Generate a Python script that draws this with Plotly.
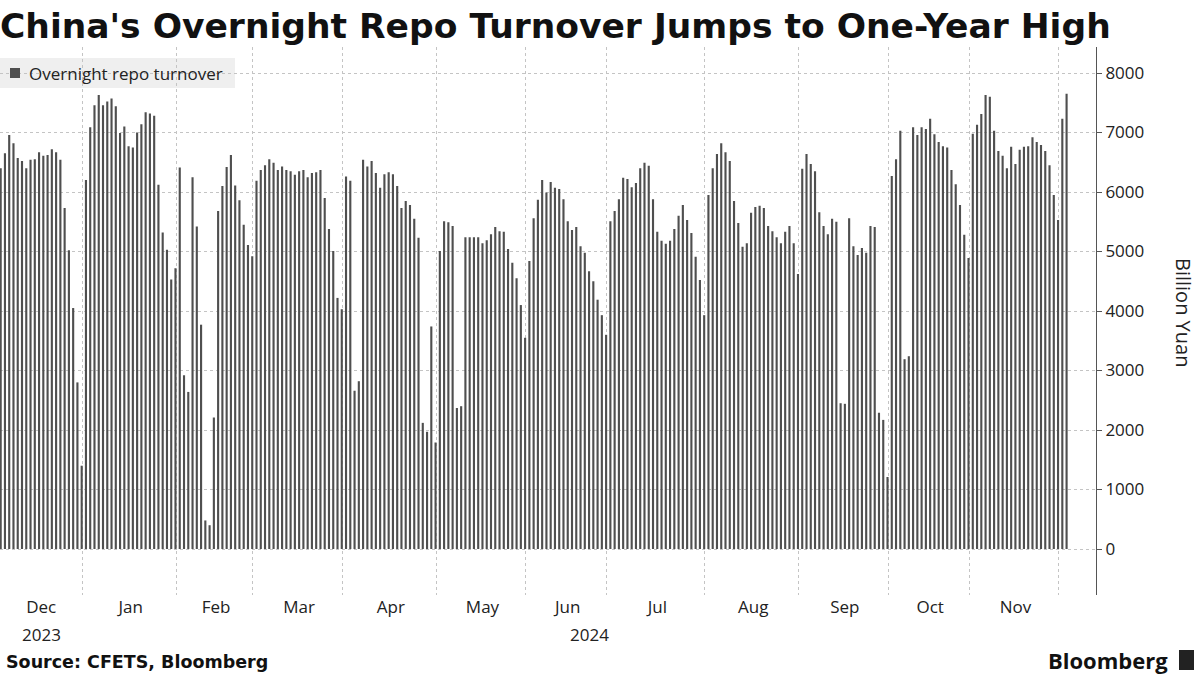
import plotly.graph_objects as go

# ---- data: overnight repo turnover (billion yuan), by month of trading days ----
month_names = ["Dec", "Jan", "Feb", "Mar", "Apr", "May", "Jun", "Jul", "Aug", "Sep", "Oct", "Nov", "Dec"]
dec23 = [6400, 6650, 6960, 6820, 6570, 6520, 6400, 6540, 6550, 6670, 6610, 6620, 6720, 6670, 6540, 5730, 5020, 4050, 2800, 1400]
jan24 = [6200, 7090, 7460, 7630, 7460, 7520, 7570, 7440, 6990, 7100, 6770, 6750, 7000, 7140, 7340, 7320, 7280, 6120, 5320, 5030, 4530, 4720]
feb24 = [6410, 2920, 2640, 6250, 5420, 3770, 480, 400, 2210, 5680, 6100, 6420, 6620, 6110, 5860, 5450, 5110, 4920]
mar24 = [6190, 6370, 6450, 6550, 6490, 6370, 6430, 6370, 6350, 6290, 6350, 6370, 6250, 6320, 6330, 6370, 5900, 5380, 5010, 4220, 4030]
apr24 = [6260, 6190, 2660, 2820, 6540, 6430, 6520, 6320, 6070, 6300, 6330, 6300, 6100, 5730, 5850, 5780, 5550, 5230, 2120, 1970, 3740, 1790]
may24 = [5010, 5510, 5490, 5430, 2370, 2400, 5240, 5240, 5240, 5240, 5140, 5190, 5290, 5410, 5340, 5330, 5040, 4810, 4550, 4100, 3550]
jun24 = [4840, 5560, 5870, 6200, 5990, 6170, 6070, 6050, 5880, 5510, 5360, 5410, 5090, 4980, 4670, 4500, 4190, 3930, 3600]
jul24 = [5510, 5680, 5880, 6240, 6220, 6080, 6150, 6400, 6490, 6440, 5880, 5330, 5180, 5130, 5180, 5380, 5600, 5780, 5530, 5310, 4910, 4520, 3930]
aug24 = [5950, 6400, 6640, 6820, 6670, 6520, 5850, 5480, 5080, 5140, 5650, 5750, 5770, 5730, 5430, 5340, 5240, 5140, 5330, 5430, 5140, 4620]
sep24 = [6390, 6640, 6470, 6350, 5660, 5430, 5290, 5550, 5500, 2450, 2440, 5560, 5090, 4940, 5060, 4980, 5430, 5410, 2290, 2170, 1210]
oct24 = [6270, 6550, 7030, 3190, 3240, 7090, 6960, 7090, 7060, 7230, 6970, 6840, 6770, 6750, 6370, 6130, 5780, 5280, 4890]
nov24 = [6980, 7130, 7310, 7630, 7600, 7030, 6690, 6610, 6400, 6760, 6470, 6710, 6760, 6770, 6920, 6840, 6790, 6690, 6450, 5950, 5530]
dec24 = [7230, 7650]
months = [dec23, jan24, feb24, mar24, apr24, may24, jun24, jul24, aug24, sep24, oct24, nov24, dec24]
y_ticks = [0, 1000, 2000, 3000, 4000, 5000, 6000, 7000, 8000]
series_name = "Overnight repo turnover"

values = []
label_pos, grid_pos = [], []
start = 0
for m in months:
    n = len(m)
    values.extend(m)
    label_pos.append(start + (n - 1) / 2)
    grid_pos.append(start - 1 + 0.15)
    start += n
x = list(range(len(values)))

W, H = 1200, 675
ML, MR, MT, MB = 0, 104, 47, 80
plot_w = W - ML - MR
plot_h = H - MT - MB
X_MIN, X_MAX = -0.16, 256.9
BAR = "#4f4f4f"
GRID = "#c4c4c4"
TXT = "#222"


def px(xp):
    return (xp - ML) / plot_w


def py(yp):
    return (H - MB - yp) / plot_h


fig = go.Figure()
fig.add_trace(go.Bar(x=x, y=values, name=series_name, showlegend=False,
                     marker=dict(color=BAR, line=dict(width=0)), width=0.5))

fig.update_layout(
    width=W, height=H, autosize=False,
    margin=dict(l=ML, r=MR, t=MT, b=MB, pad=0),
    paper_bgcolor="white", plot_bgcolor="white",
    font=dict(family="Open Sans", color=TXT),
    title=dict(text="<b>China's Overnight Repo Turnover Jumps to One-Year High</b>",
               x=0.0, xref="container", xanchor="left", y=1 - 26 / H, yanchor="middle",
               font=dict(family="DejaVu Sans", size=34.5, color="#111")),
    bargap=0.5,
)

fig.update_xaxes(
    range=[X_MIN, X_MAX], showgrid=False, zeroline=False, showline=False,
    tickmode="array", tickvals=label_pos[:-1], ticktext=month_names[:-1],
    ticks="", tickfont=dict(size=17, color=TXT),
    minor=dict(tickmode="array", tickvals=grid_pos[1:], showgrid=True,
               gridcolor=GRID, griddash="dot", gridwidth=1, ticks=""),
)
fig.update_yaxes(
    side="right", range=[-773, 8437], tickmode="array", tickvals=y_ticks,
    ticktext=[str(v) for v in y_ticks],
    showgrid=True, gridcolor=GRID, griddash="dot", gridwidth=1, zeroline=False,
    showline=True, linecolor="#555", linewidth=1, ticks="outside", ticklen=5,
    tickcolor="#555", tickfont=dict(size=17, color=TXT),
)

annotations = [
    dict(text="2023", x=label_pos[0], xref="x", y=py(634), yref="paper",
         showarrow=False, font=dict(size=17, color=TXT), yanchor="middle"),
    dict(text="2024", x=(grid_pos[1] + X_MAX) / 2, xref="x", y=py(634), yref="paper",
         showarrow=False, font=dict(size=17, color=TXT), yanchor="middle"),
    dict(text="Billion Yuan", textangle=90, x=px(1184), xref="paper",
         y=py(312), yref="paper", showarrow=False,
         font=dict(size=20, color=TXT), xanchor="center", yanchor="middle"),
    dict(text="<b>Source: CFETS, Bloomberg</b>", x=px(4), xref="paper", xanchor="left",
         y=py(662), yref="paper", yanchor="middle", showarrow=False,
         font=dict(family="DejaVu Sans", size=17.5, color="#111")),
    dict(text="<b>Bloomberg</b>", x=px(1170), xref="paper", xanchor="right",
         y=py(660), yref="paper", yanchor="middle", showarrow=False,
         font=dict(family="Open Sans", size=22, color="#111")),
    # legend text
    dict(text=series_name, x=px(27), xref="paper", xanchor="left",
         y=py(73), yref="paper", yanchor="middle", showarrow=False,
         font=dict(size=17, color=TXT)),
]
fig.update_layout(annotations=annotations)

shapes = [
    # legend background and swatch
    dict(type="rect", xref="paper", yref="paper", x0=px(0), x1=px(235),
         y0=py(88), y1=py(58), fillcolor="#efefef", line=dict(width=0), layer="below"),
    dict(type="rect", xref="paper", yref="paper", x0=px(10), x1=px(20),
         y0=py(78), y1=py(68), fillcolor=BAR, line=dict(width=0)),
    # Bloomberg icon
    dict(type="rect", xref="paper", yref="paper", x0=px(1179), x1=px(1194),
         y0=py(670), y1=py(650), fillcolor="#222", line=dict(width=0)),
]
fig.update_layout(shapes=shapes)

fig.write_html(
    "out.html",
    config={"displayModeBar": False},
    post_script="document.body.style.margin='0px';document.documentElement.style.overflow='hidden';document.body.style.overflow='hidden';",
)
